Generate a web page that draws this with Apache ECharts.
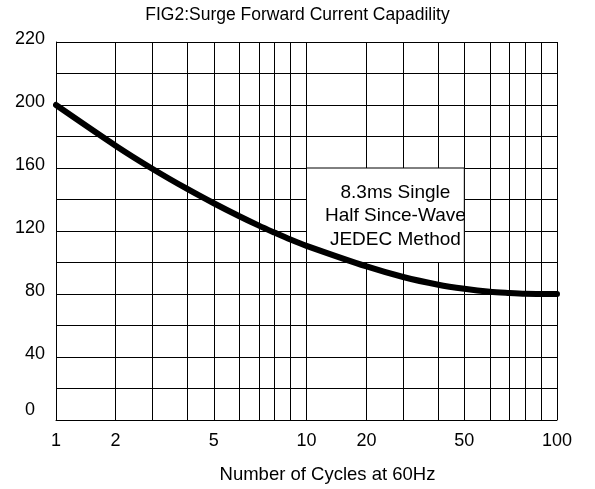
<!DOCTYPE html>
<html><head><meta charset="utf-8">
<script src="https://cdn.jsdelivr.net/npm/echarts@6/dist/echarts.min.js"></script>
<style>html,body{margin:0;padding:0;background:#fff}#c{width:595px;height:489px}</style>
</head><body><div id="c"></div>
<script>
// The printed x scale is a hand-drawn log scale: cycles -> position (0..100) across the plot
const gridCycles = [1,2,3,4,5,6,7,8,9,10,20,30,40,50,60,70,80,90,100];
const gridPos    = [0,11.9,19.3,26.2,31.5,36.5,40.5,43.6,46.8,50,62,69.3,76.3,81.5,86.6,90.5,93.7,96.9,100];
const xTickCycles = [1,2,5,10,20,50,100];
const yLabelValues = [0,40,80,120,160,200,240];
const yLabelTexts  = ['0','40','80','120','160','200','220'];
const curveCycles  = [1,2,3,4,5,6,7,8,9,10,20,30,40,50,60,70,80,90,100];
const curveCurrent = [200,174.2,159.4,146.7,137.6,129.5,123.4,119,114.6,110.6,97.5,90.8,85.9,83.3,81.4,80.6,80.1,80,80];
const noteBox = {x0:10, x1:50, y0:100, y1:160};
const noteLines = ['8.3ms Single','Half Since-Wave','JEDEC Method'];
const titleText = 'FIG2:Surge Forward Current Capadility';
const xName = 'Number of Cycles at 60Hz';

function toPos(c){
  const lc = Math.log10(c);
  for (let i=0;i<gridCycles.length-1;i++){
    const a=Math.log10(gridCycles[i]), b=Math.log10(gridCycles[i+1]);
    if (lc>=a-1e-9 && lc<=b+1e-9) return gridPos[i]+(lc-a)/(b-a)*(gridPos[i+1]-gridPos[i]);
  }
  return lc<=0?gridPos[0]:gridPos[gridPos.length-1];
}
const FONT = 'Liberation Sans, Arial, sans-serif';
const chart = echarts.init(document.getElementById('c'), null, {renderer:'canvas'});
const xTickPos = xTickCycles.map(toPos);
chart.setOption({
  animation:false,
  backgroundColor:'#fff',
  title:{text:titleText,left:'center',top:1,textStyle:{fontFamily:FONT,fontSize:17.5,fontWeight:'normal',color:'#000'}},
  grid:{left:56,top:42,width:501,height:378,show:false,containLabel:false,outerBoundsMode:'none'},
  xAxis:{type:'value',min:0,max:100,
    name:xName,nameLocation:'middle',nameGap:45,
    nameTextStyle:{fontFamily:FONT,fontSize:18.5,color:'#000',padding:[0,0,0,42]},
    axisLine:{show:true,lineStyle:{color:'#000',width:1}},
    axisTick:{show:false},
    splitLine:{show:false},
    axisLabel:{customValues:xTickPos,margin:12,fontFamily:FONT,fontSize:18,color:'#000',
      formatter:function(v){for(let i=0;i<xTickPos.length;i++){if(Math.abs(xTickPos[i]-v)<1e-6)return String(xTickCycles[i]);}return '';}}
  },
  yAxis:{type:'value',min:0,max:240,interval:20,
    axisLine:{show:true,lineStyle:{color:'#000',width:1}},
    axisTick:{show:false},
    splitLine:{show:true,lineStyle:{color:'#000',width:1}},
    axisLabel:{margin:11,fontFamily:FONT,fontSize:18,color:'#000',padding:[0,0,6,0],
      formatter:function(v){const i=yLabelValues.indexOf(v);if(i<0)return '';if(v===0)return '{z|'+yLabelTexts[i]+'}';return yLabelTexts[i];},
      rich:{z:{fontFamily:FONT,fontSize:18,color:'#000',padding:[0,10,14,0]}}
    }
  },
  series:[
    {type:'line',z:1,data:[],silent:true,
      markLine:{z:1,silent:true,symbol:['none','none'],animation:false,label:{show:false},
        lineStyle:{color:'#000',width:1,type:'solid'},
        emphasis:{disabled:true},
        data:gridCycles.map(c=>({xAxis:toPos(c)}))}
    },
    {type:'line',z:2,data:[],silent:true,
      markArea:{z:2,silent:true,itemStyle:{color:'#fff',opacity:1,borderColor:'#000',borderWidth:1},
        label:{show:true,position:'inside',offset:[10,1],fontFamily:FONT,fontSize:19,lineHeight:23.5,color:'#000',align:'center',formatter:noteLines.join('\n')},
        emphasis:{disabled:true},
        data:[[{xAxis:toPos(noteBox.x0),yAxis:noteBox.y1},{xAxis:toPos(noteBox.x1),yAxis:noteBox.y0}]]}
    },
    {type:'line',z:3,smooth:0.3,showSymbol:false,symbol:'none',
      lineStyle:{color:'#000',width:6,cap:'round',join:'round'},
      data:curveCycles.map((c,i)=>[toPos(c),curveCurrent[i]])}
  ]
});
</script></body></html>
